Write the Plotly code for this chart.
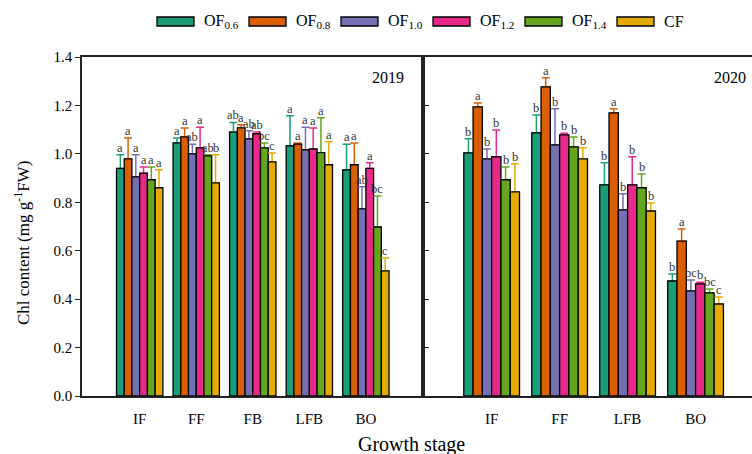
import plotly.graph_objects as go

# ---------------- data ----------------
series = ["OF0.6", "OF0.8", "OF1.0", "OF1.2", "OF1.4", "CF"]
series_labels = ["OF<sub>0.6</sub>", "OF<sub>0.8</sub>", "OF<sub>1.0</sub>",
                 "OF<sub>1.2</sub>", "OF<sub>1.4</sub>", "CF"]
colors = ["#1b9e77", "#d95f02", "#7570b3", "#e7298a", "#66a61e", "#e6ab02"]

stages_2019 = ["IF", "FF", "FB", "LFB", "BO"]
vals_2019 = {
    "OF0.6": [0.940, 1.045, 1.090, 1.033, 0.934],
    "OF0.8": [0.979, 1.070, 1.107, 1.040, 0.955],
    "OF1.0": [0.905, 1.000, 1.062, 1.017, 0.773],
    "OF1.2": [0.920, 1.025, 1.083, 1.020, 0.940],
    "OF1.4": [0.893, 0.992, 1.025, 1.005, 0.698],
    "CF":    [0.860, 0.880, 0.967, 0.955, 0.517],
}
err_2019 = {
    "OF0.6": [0.056, 0.021, 0.040, 0.124, 0.106],
    "OF0.8": [0.087, 0.037, 0.013, 0.005, 0.090],
    "OF1.0": [0.091, 0.040, 0.033, 0.093, 0.091],
    "OF1.2": [0.026, 0.085, 0.007, 0.087, 0.023],
    "OF1.4": [0.053, 0.004, 0.020, 0.144, 0.128],
    "CF":    [0.074, 0.116, 0.037, 0.095, 0.053],
}
letters_2019 = {
    "OF0.6": ["a", "a", "ab", "a", "a"],
    "OF0.8": ["a", "a", "a", "a", "a"],
    "OF1.0": ["a", "ab", "ab", "a", "ab"],
    "OF1.2": ["a", "a", "ab", "a", "a"],
    "OF1.4": ["a", "ab", "bc", "a", "bc"],
    "CF":    ["a", "b", "c", "a", "c"],
}

stages_2020 = ["IF", "FF", "LFB", "BO"]
vals_2020 = {
    "OF0.6": [1.004, 1.087, 0.872, 0.475],
    "OF0.8": [1.194, 1.277, 1.169, 0.640],
    "OF1.0": [0.979, 1.037, 0.769, 0.434],
    "OF1.2": [0.988, 1.078, 0.872, 0.463],
    "OF1.4": [0.893, 1.029, 0.860, 0.426],
    "CF":    [0.843, 0.979, 0.764, 0.380],
}
err_2020 = {
    "OF0.6": [0.058, 0.073, 0.091, 0.029],
    "OF0.8": [0.016, 0.037, 0.017, 0.050],
    "OF1.0": [0.041, 0.149, 0.066, 0.045],
    "OF1.2": [0.111, 0.007, 0.116, 0.007],
    "OF1.4": [0.053, 0.041, 0.057, 0.016],
    "CF":    [0.116, 0.046, 0.033, 0.029],
}
letters_2020 = {
    "OF0.6": ["b", "b", "b", "b"],
    "OF0.8": ["a", "a", "a", "a"],
    "OF1.0": ["b", "b", "b", "bc"],
    "OF1.2": ["b", "b", "b", "b"],
    "OF1.4": ["b", "b", "b", "bc"],
    "CF":    ["b", "b", "b", "c"],
}

y_ticks = [0.0, 0.2, 0.4, 0.6, 0.8, 1.0, 1.2, 1.4]

# ---------------- layout constants ----------------
W, H = 752, 454
ML, MR, MT, MB = 82, 0, 57, 58
PW, PH = W - ML - MR, H - MT - MB
SPLIT = (423 - ML) / PW
BARGAP = 0.18
SERIF = "Liberation Serif"
AX_COLOR = "#222222"


def px_x(px):
    """page pixel x -> paper fraction"""
    return (px - ML) / PW


def px_y(py):
    """page pixel y -> paper fraction"""
    return (H - MB - py) / PH


fig = go.Figure()
annotations = []

panels = [
    ("x", "y", stages_2019, vals_2019, err_2019, letters_2019),
    ("x2", "y2", stages_2020, vals_2020, err_2020, letters_2020),
]

n = len(series)
slot = (1 - BARGAP) / n
for xa, ya, stages, vals, errs, letters in panels:
    for j, s in enumerate(series):
        # error bars (drawn first; the real bar covers the lower cap)
        fig.add_trace(go.Bar(
            x=stages, y=vals[s], xaxis=xa, yaxis=ya,
            offsetgroup=str(j), showlegend=False, hoverinfo="skip",
            marker=dict(color="rgba(0,0,0,0)", line=dict(width=0)),
            error_y=dict(type="data", symmetric=False, array=errs[s],
                         arrayminus=[0] * len(stages), color=colors[j],
                         thickness=1.5, width=4),
        ))
        fig.add_trace(go.Bar(
            x=stages, y=vals[s], xaxis=xa, yaxis=ya, name=s,
            offsetgroup=str(j), showlegend=False,
            marker=dict(color=colors[j], line=dict(color="black", width=1.3)),
        ))
        for i, st in enumerate(stages):
            annotations.append(dict(
                x=i + (j - (n - 1) / 2) * slot, y=vals[s][i] + errs[s][i],
                xref=xa, yref=ya, text=letters[s][i], showarrow=False,
                xanchor="center", yanchor="bottom", yshift=-2,
                font=dict(family=SERIF, size=12.5, color="#333333"),
            ))

# legend (drawn manually to get the wide flat swatches)
shapes = []
for k, (lab, col) in enumerate(zip(series_labels, colors)):
    x0 = 157 + k * 92
    shapes.append(dict(type="rect", xref="paper", yref="paper",
                       x0=px_x(x0), x1=px_x(x0 + 37), y0=px_y(26), y1=px_y(17),
                       fillcolor=col, line=dict(color="black", width=1.3)))
    annotations.append(dict(x=px_x(x0 + 45), y=px_y(21), xref="paper", yref="paper",
                            text=lab, showarrow=False, xanchor="left", yanchor="middle",
                            font=dict(family=SERIF, size=16, color="black")))

# panel labels
annotations.append(dict(x=px_x(388), y=px_y(77), xref="paper", yref="paper", text="2019",
                        showarrow=False, xanchor="center", yanchor="middle",
                        font=dict(family=SERIF, size=16, color="black")))
annotations.append(dict(x=px_x(730), y=px_y(77), xref="paper", yref="paper", text="2020",
                        showarrow=False, xanchor="center", yanchor="middle",
                        font=dict(family=SERIF, size=16, color="black")))
# axis titles
annotations.append(dict(x=px_x(22), y=px_y(243), xref="paper", yref="paper",
                        text="Chl content (mg g<sup>-1</sup>FW)", textangle=-90,
                        showarrow=False, xanchor="center", yanchor="middle",
                        font=dict(family=SERIF, size=17, color="black")))
annotations.append(dict(x=px_x(411), y=px_y(444), xref="paper", yref="paper",
                        text="Growth stage", showarrow=False, xanchor="center",
                        yanchor="middle", font=dict(family=SERIF, size=20, color="black")))

xcommon = dict(showline=True, linecolor=AX_COLOR, linewidth=1.5, mirror=True,
               ticks="", showgrid=False, zeroline=False, type="category",
               tickfont=dict(family=SERIF, size=15, color="black"),
               ticklabelstandoff=8)
ycommon = dict(range=[0, 1.4], tickvals=y_ticks, showgrid=False, zeroline=False,
               showline=True, linecolor=AX_COLOR, linewidth=1.5)

fig.update_layout(
    width=W, height=H, margin=dict(l=ML, r=MR, t=MT, b=MB),
    paper_bgcolor="white", plot_bgcolor="white",
    barmode="group", bargap=BARGAP, bargroupgap=0,
    showlegend=False,
    xaxis=dict(domain=[0, SPLIT], range=[-1.02, 5.01], anchor="y", **xcommon),
    xaxis2=dict(domain=[SPLIT, 1], range=[-1.01, 3.83], anchor="y2", **xcommon),
    yaxis=dict(anchor="x", ticks="outside", ticklen=5, tickwidth=1.3, tickcolor=AX_COLOR,
               tickformat=".1f", mirror=True,
               tickfont=dict(family=SERIF, size=15, color="black"), **ycommon),
    yaxis2=dict(anchor="x2", matches="y", ticks="inside", ticklen=6, tickwidth=1.3,
                tickcolor=AX_COLOR, showticklabels=False, **ycommon),
    annotations=annotations,
    shapes=shapes,
)

fig.write_html(
    "out.html",
    config={"displayModeBar": False},
    post_script="document.body.style.margin='0';document.body.style.overflow='hidden';",
)
